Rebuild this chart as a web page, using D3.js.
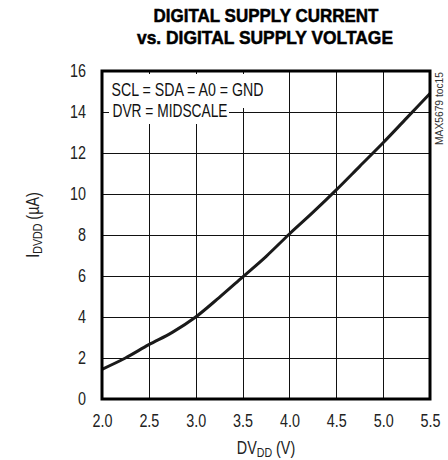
<!DOCTYPE html>
<html>
<head>
<meta charset="utf-8">
<script src="https://cdn.jsdelivr.net/npm/d3@7"></script>
<style>
  html, body { margin: 0; padding: 0; background: #fff; }
  svg { display: block; }
  .cond { font-family: "Liberation Sans", Arial, sans-serif; }
</style>
</head>
<body>
<svg id="chart" width="448" height="460"></svg>
<script>
// Supply voltage (V) and digital supply current (µA)
const dvdd = [2.0, 2.25, 2.5, 2.75, 3.0, 3.25, 3.5, 3.75, 4.0, 4.25, 4.5, 4.75, 5.0, 5.25, 5.5];
const idvdd = [1.45, 2.0, 2.65, 3.25, 4.0, 4.95, 5.95, 6.95, 8.05, 9.1, 10.2, 11.35, 12.5, 13.7, 14.9];

const xTicks = [2.0, 2.5, 3.0, 3.5, 4.0, 4.5, 5.0, 5.5];
const yTicks = [0, 2, 4, 6, 8, 10, 12, 14, 16];

const titleLines = ["DIGITAL SUPPLY CURRENT", "vs. DIGITAL SUPPLY VOLTAGE"];
const noteLines = ["SCL = SDA = A0 = GND", "DVR = MIDSCALE"];
const figureTag = "MAX5679 toc15";

const svg = d3.select("#chart");
const plotL = 102, plotR = 430, plotT = 71, plotB = 399;

const x = d3.scaleLinear().domain([2, 5.5]).range([plotL, plotR]);
const y = d3.scaleLinear().domain([0, 16]).range([plotB, plotT]);

// Squeeze plain text runs horizontally to a condensed width
function narrow(sel, f) {
  sel.each(function () {
    const len = this.getComputedTextLength();
    d3.select(this).attr("textLength", len * f).attr("lengthAdjust", "spacingAndGlyphs");
  });
}

// Title
const title = svg.append("g").attr("class", "cond")
  .attr("font-weight", "bold").attr("font-size", 18.5).attr("text-anchor", "middle")
  .attr("stroke", "#000").attr("stroke-width", 0.5);
title.append("text").attr("x", 266).attr("y", 22)
  .attr("textLength", 225).attr("lengthAdjust", "spacingAndGlyphs").text(titleLines[0]);
title.append("text").attr("x", 265).attr("y", 43.6)
  .attr("textLength", 256).attr("lengthAdjust", "spacingAndGlyphs").text(titleLines[1]);

// Grid
const grid = svg.append("g").attr("stroke", "#111").attr("stroke-width", 1);
grid.selectAll("line.v").data(xTicks.slice(1, -1)).join("line")
  .attr("class", "v")
  .attr("x1", d => Math.round(x(d)) + 0.5).attr("x2", d => Math.round(x(d)) + 0.5)
  .attr("y1", plotT).attr("y2", plotB);
grid.selectAll("line.h").data(yTicks.slice(1, -1)).join("line")
  .attr("class", "h")
  .attr("x1", plotL).attr("x2", plotR)
  .attr("y1", d => Math.round(y(d)) + 0.5).attr("y2", d => Math.round(y(d)) + 0.5);

// Note block with knocked-out background
svg.append("rect").attr("x", 104).attr("y", 74).attr("width", 162).attr("height", 34).attr("fill", "#fff");
svg.append("rect").attr("x", 109).attr("y", 100).attr("width", 120).attr("height", 24).attr("fill", "#fff");
const note = svg.append("g").attr("class", "cond").attr("font-size", 17.5).attr("fill", "#111");
note.append("text").attr("x", 111.5).attr("y", 96)
  .attr("textLength", 152).attr("lengthAdjust", "spacingAndGlyphs").text(noteLines[0]);
note.append("text").attr("x", 112.5).attr("y", 117.3)
  .attr("textLength", 115).attr("lengthAdjust", "spacingAndGlyphs").text(noteLines[1]);

// Curve
const line = d3.line().x((d, i) => x(dvdd[i])).y(d => y(d)).curve(d3.curveMonotoneX);
svg.append("path").datum(idvdd).attr("d", line)
  .attr("fill", "none").attr("stroke", "#1a1a1a").attr("stroke-width", 3)
  .attr("stroke-linejoin", "round");

// Frame
svg.append("rect").attr("x", plotL).attr("y", plotT)
  .attr("width", plotR - plotL).attr("height", plotB - plotT)
  .attr("fill", "none").attr("stroke", "#000").attr("stroke-width", 3);

// Axes (labels only)
const xAxis = svg.append("g").attr("transform", `translate(0,${plotB})`)
  .call(d3.axisBottom(x).tickValues(xTicks).tickFormat(d3.format(".1f")).tickSize(0).tickPadding(16));
const yAxis = svg.append("g").attr("transform", `translate(${plotL},0)`)
  .call(d3.axisLeft(y).tickValues(yTicks).tickFormat(d3.format("d")).tickSize(0).tickPadding(16));
[xAxis, yAxis].forEach(a => {
  a.select(".domain").remove();
  a.attr("font-family", null).attr("font-size", null);
  a.selectAll("text").attr("class", "cond").attr("font-size", 17.5).attr("fill", "#222");
  narrow(a.selectAll("text"), 0.82);
});

// Axis titles
const xt = svg.append("text").attr("class", "cond").attr("font-size", 17.5).attr("fill", "#222")
  .attr("text-anchor", "middle")
  .attr("transform", "translate(266,453.5) scale(0.82,1)");
xt.append("tspan").text("DV");
xt.append("tspan").attr("font-size", 13).attr("dy", 3.5).text("DD");
xt.append("tspan").attr("dy", -3.5).text(" (V)");

const yt = svg.append("text").attr("class", "cond").attr("font-size", 17.5).attr("fill", "#222")
  .attr("text-anchor", "middle")
  .attr("transform", "translate(38.5,225) rotate(-90) scale(0.82,1)");
yt.append("tspan").text("I");
yt.append("tspan").attr("font-size", 13).attr("dy", 3.5).text("DVDD");
yt.append("tspan").attr("dy", -3.5).text(" (µA)");

// Figure tag
svg.append("text").attr("class", "cond").attr("font-size", 11).attr("fill", "#333")
  .attr("text-anchor", "middle")
  .attr("transform", "translate(443,108.5) rotate(-90)")
  .attr("textLength", 73).attr("lengthAdjust", "spacingAndGlyphs")
  .text(figureTag);
</script>
</body>
</html>
